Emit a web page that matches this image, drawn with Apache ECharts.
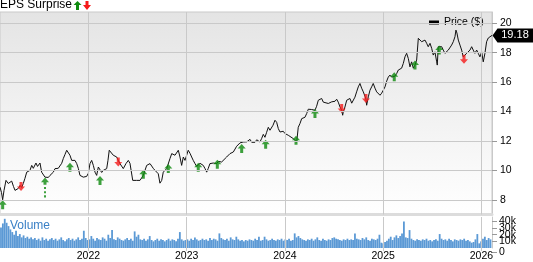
<!DOCTYPE html>
<html><head><meta charset="utf-8">
<script src="https://cdn.jsdelivr.net/npm/echarts@6/dist/echarts.min.js"></script>
<style>html,body{margin:0;padding:0;background:#fff}#c{width:533px;height:262px}</style>
</head><body><div id="c"></div>
<script>
// ---- data (x = decimal year) ----
const priceT = [
2021.100,2021.115,2021.127,2021.141,2021.161,2021.184,2021.202,2021.219,2021.237,2021.253,
2021.273,2021.286,2021.304,2021.321,2021.337,2021.354,2021.372,2021.388,2021.405,2021.423,
2021.439,2021.456,2021.466,2021.482,2021.490,2021.507,2021.524,2021.541,2021.558,2021.575,
2021.592,2021.609,2021.643,2021.660,2021.693,2021.711,2021.728,2021.744,2021.762,2021.779,
2021.795,2021.812,2021.830,2021.846,2021.863,2021.881,2021.897,2021.914,2021.948,2021.982,
2021.999,2022.016,2022.033,2022.050,2022.067,2022.084,2022.101,2022.118,2022.135,2022.151,
2022.186,2022.199,2022.212,2022.230,2022.253,2022.270,2022.288,2022.304,2022.321,2022.355,
2022.382,2022.406,2022.423,2022.451,2022.457,2022.491,2022.525,2022.542,2022.559,2022.576,
2022.593,2022.609,2022.627,2022.644,2022.660,2022.678,2022.695,2022.711,2022.728,2022.746,
2022.762,2022.779,2022.797,2022.813,2022.830,2022.848,2022.864,2022.881,2022.898,2022.915,
2022.932,2022.949,2022.966,2022.983,2023.000,2023.016,2023.034,2023.051,2023.067,2023.085,
2023.102,2023.118,2023.136,2023.153,2023.169,2023.187,2023.204,2023.220,2023.237,2023.271,
2023.288,2023.306,2023.322,2023.339,2023.356,2023.373,2023.407,2023.424,2023.441,2023.475,
2023.492,2023.509,2023.525,2023.543,2023.576,2023.611,2023.627,2023.645,2023.662,2023.678,
2023.695,2023.713,2023.729,2023.746,2023.764,2023.780,2023.797,2023.814,2023.831,2023.848,
2023.879,2023.899,2023.916,2023.933,2023.950,2023.983,2024.001,2024.034,2024.052,2024.085,
2024.103,2024.120,2024.136,2024.153,2024.171,2024.187,2024.204,2024.222,2024.238,2024.255,
2024.272,2024.289,2024.306,2024.323,2024.340,2024.357,2024.374,2024.391,2024.408,2024.442,
2024.476,2024.492,2024.510,2024.527,2024.543,2024.561,2024.578,2024.588,2024.594,2024.611,
2024.629,2024.645,2024.662,2024.680,2024.696,2024.713,2024.730,2024.747,2024.764,2024.781,
2024.798,2024.815,2024.825,2024.832,2024.849,2024.866,2024.883,2024.899,2024.917,2024.934,
2024.950,2024.968,2024.985,2025.001,2025.019,2025.036,2025.052,2025.069,2025.087,2025.103,
2025.120,2025.138,2025.154,2025.171,2025.188,2025.205,2025.222,2025.239,2025.256,2025.273,
2025.290,2025.307,2025.324,2025.341,2025.358,2025.375,2025.392,2025.408,2025.426,2025.443,
2025.459,2025.477,2025.494,2025.510,2025.527,2025.545,2025.551,2025.561,2025.578,2025.596,
2025.612,2025.629,2025.647,2025.663,2025.680,2025.697,2025.714,2025.731,2025.741,2025.751,
2025.765,2025.782,2025.799,2025.815,2025.833,2025.850,2025.866,2025.884,2025.901,2025.917,
2025.934,2025.952,2025.968,2025.985,2026.003,2026.019,2026.036,2026.053,2026.070,2026.087,
2026.108];
const priceV = [
8.86,8.50,8.00,8.64,9.32,9.11,9.18,9.27,8.91,8.64,
8.70,8.77,8.98,8.84,9.11,9.46,9.88,9.86,10.00,10.34,
10.14,10.27,10.50,10.27,10.34,10.50,9.88,9.80,9.54,9.43,
9.52,9.66,9.88,10.12,10.14,10.23,10.48,10.80,11.09,11.37,
11.48,11.03,10.68,10.80,10.68,10.46,10.14,9.66,9.54,9.59,
9.80,10.46,10.68,10.34,9.88,9.66,10.23,10.12,9.86,10.00,
10.12,10.68,11.37,11.48,11.03,11.14,10.91,10.68,10.46,10.12,
10.46,10.68,10.48,9.32,9.20,9.32,9.32,9.45,9.66,10.00,
10.34,10.46,10.46,10.50,10.14,10.00,10.00,9.77,9.13,9.32,
9.88,10.00,10.12,10.20,10.80,11.14,11.23,11.03,11.16,11.37,
10.91,10.34,10.91,10.68,11.03,11.37,11.16,10.91,10.68,10.46,
10.27,10.34,10.48,10.57,10.34,10.12,9.88,10.14,10.46,10.50,
10.48,10.46,10.61,10.68,10.57,10.68,10.91,11.03,11.14,11.25,
11.37,11.64,11.77,11.87,11.93,11.94,12.05,12.11,11.91,11.82,
11.91,12.08,12.11,11.93,12.18,12.45,12.25,12.59,12.93,12.73,
13.07,13.41,13.27,12.84,12.61,12.66,12.50,12.39,12.27,12.16,
12.05,11.93,12.93,13.18,13.52,13.41,13.61,13.87,14.16,14.18,
14.14,14.02,14.09,14.36,14.77,14.89,14.89,14.64,14.55,14.55,
14.66,14.64,14.70,14.84,14.64,14.31,14.09,13.75,13.95,14.31,
14.77,14.89,14.89,14.57,14.70,14.98,15.34,15.68,15.91,15.59,
15.34,15.04,14.84,14.43,15.00,15.45,15.68,15.91,15.59,15.34,
15.23,15.11,15.25,15.45,15.68,16.07,16.34,16.48,16.34,16.25,
16.41,16.59,16.82,16.88,16.95,17.27,17.72,17.96,17.61,17.04,
17.38,16.95,17.16,17.50,18.98,18.86,18.75,18.86,18.86,18.64,
18.41,18.64,18.30,17.84,18.06,17.38,17.16,18.41,18.41,18.41,
18.18,17.96,18.06,18.18,18.30,18.52,18.75,19.09,19.54,19.34,
18.86,18.52,18.18,17.72,17.84,17.96,17.84,18.18,18.41,18.18,
17.96,18.18,17.96,17.72,18.06,17.38,17.96,18.75,19.00,19.09,
19.18];
const lastPrice = '19.18';

// EPS surprise markers (decimal year, price level)
const beatT = [2021.127,2021.812,2022.118,2022.559,2022.813,2023.118,2023.312,2023.560,2023.804,2024.113,2024.306,2025.113,2025.324,2025.571];
const beatV = [7.66,10.22,9.32,9.73,10.12,10.22,10.41,11.48,11.77,12.05,13.86,16.36,17.16,18.18];
const beatDashT = [2021.558];
const beatDashV = [8.84];
const missT = [2021.314,2022.304,2024.578,2024.825,2025.823];
const missV = [8.91,10.57,14.21,14.89,17.55];

// weekly volume (thousands), first bar week of Feb 2021
const volStartT = 2021.11;
const volumeK = [
31,37,44,38,33,28,24,20,26,18,21,16,19,15,17,14,16,13,15,12,14,11,16,12,14,11,13,15,12,14,11,13,16,12,10,13,15,12,14,11,13,16,12,14,26,15,12,
13,18,14,11,15,13,12,16,14,11,20,15,27,13,12,16,14,12,11,13,15,12,14,11,25,17,20,13,12,14,11,13,18,12,10,12,14,11,13,12,10,12,14,11,13,12,10,14,24,13,11,12,
13,11,14,12,16,13,11,12,14,12,13,11,15,12,14,13,11,22,15,13,12,14,11,16,13,12,17,13,11,12,10,12,11,13,12,11,14,12,17,11,12,17,13,11,12,14,12,11,13,12,14,11,
13,12,14,11,12,22,16,18,15,13,12,11,13,12,14,11,13,16,12,11,14,12,11,13,12,15,16,14,13,12,11,13,12,14,12,13,12,22,14,13,12,15,13,16,12,11,14,13,12,14,20,8,
7,9,11,14,17,12,16,19,15,18,22,40,16,15,27,14,12,11,13,12,11,13,12,14,11,12,10,12,13,11,21,14,12,13,11,14,12,10,13,12,11,13,12,14,11,12,10,8,9,13,21,7,
10,14,17,12,15,13];

const yearTicks = [2022,2023,2024,2025,2026];
const priceTicks = [8,10,12,14,16,18,20];
const volTicksA = [20000,40000];
const volTicksB = [10000,30000];
const volTicksC = [0.001]; // the "0" tick (kept non-zero so it is not dropped)

// ---- chart ----
const FONT = '"Liberation Sans", Arial, Helvetica, sans-serif';
const X0 = 2021.10, X1 = 2026.108;
const VMIN = 0, VMAX = 46700;
const VMIN_C = -7445; // helper axis extends 5.5px below the volume panel
const GRID = '#c9c9c9';
const GREEN = '#0e8a0e', RED = '#f51a1a';
const UP = 'path://M4,0 L8,4.5 L5.5,4.5 L5.5,9 L2.5,9 L2.5,4.5 L0,4.5 Z';
const DOWN = 'path://M2.5,0 L5.5,0 L5.5,4.5 L8,4.5 L4,9 L0,4.5 L2.5,4.5 Z';
const UPDASH = 'path://M4,0 L8,4.5 L5.5,4.5 L5.5,7 L2.5,7 L2.5,4.5 L0,4.5 Z M3,9 L5,9 L5,11 L3,11 Z M3,13 L5,13 L5,15 L3,15 Z M3,17 L5,17 L5,19 L3,19 Z';

const priceData = priceT.map((t, i) => [t, priceV[i]]);
const volData = volumeK.map((v, i) => [volStartT + i * 7 / 365.25, v * 1000]);
const n = priceT.length - 1;
const kFmt = v => Math.abs(Number(v)) < 1 ? '0' : Math.round(v / 1000) + 'k';

function volAxis(grid, ticks, showLine, vmin) {
  return {gridIndex: grid, type: 'value', position: 'right', min: vmin, max: VMAX,
    axisLine: {show: showLine, onZero: false, lineStyle: {color: GRID}},
    axisTick: {show: true, customValues: ticks, length: 5, lineStyle: {color: '#999'}},
    axisLabel: {customValues: ticks, formatter: kFmt, interval: 0,
      fontSize: 10.5, color: '#000', margin: 7, fontFamily: FONT,
      hideOverlap: false, showMinLabel: true, showMaxLabel: true},
    splitLine: {show: false}};
}

const chart = echarts.init(document.getElementById('c'), null, {renderer: 'canvas'});
chart.setOption({
  animation: false,
  textStyle: {fontFamily: FONT},
  title: {text: 'EPS Surprise', left: 0, top: -1, padding: 0,
    textStyle: {fontSize: 12, fontWeight: 'normal', color: '#000', fontFamily: FONT}},
  legend: {data: ['Price ($)'], left: 429, top: 17, padding: 0, icon: 'rect',
    itemWidth: 10, itemHeight: 4, itemGap: 5,
    textStyle: {fontSize: 10.5, color: '#000', fontFamily: FONT}},
  graphic: [
    {type: 'polygon', shape: {points: [[73.5,5],[77.5,1],[81.5,5],[79,5],[79,10],[76,10],[76,5]]}, style: {fill: GREEN}},
    {type: 'polygon', shape: {points: [[85.5,1],[88.5,1],[88.5,5],[91,5],[87,10],[83,5],[85.5,5]]}, style: {fill: RED}},
    {type: 'text', left: 10, top: 220, style: {text: 'Volume', fill: '#3a80c6', fontSize: 12, fontFamily: FONT}, z: 10}
  ],
  grid: [
    {left: 0, right: 41, top: 12, bottom: 47.5, show: true, borderColor: GRID, borderWidth: 1,
      backgroundColor: {type: 'linear', x: 0, y: 0, x2: 0, y2: 1,
        colorStops: [{offset: 0, color: '#e4e4e4'}, {offset: 1, color: '#ffffff'}]}},
    {left: 0, right: 41, top: 217, bottom: 10},
    {left: 0, right: 41, top: 217, bottom: 4.5}
  ],
  xAxis: [
    {gridIndex: 0, type: 'value', min: X0, max: X1,
      axisLine: {show: true, onZero: false, lineStyle: {color: '#dcdcdc', width: 3}},
      axisTick: {show: false}, axisLabel: {show: false}, splitLine: {show: false}},
    {gridIndex: 1, type: 'value', min: X0, max: X1,
      axisLine: {show: false, onZero: false},
      axisTick: {show: true, customValues: yearTicks, length: 3, lineStyle: {color: GRID}},
      axisLabel: {show: true, customValues: yearTicks, formatter: v => String(Math.round(v)),
        fontSize: 10.5, color: '#000', margin: 3, fontFamily: FONT, hideOverlap: false},
      splitLine: {show: false}},
    {gridIndex: 2, type: 'value', min: X0, max: X1, show: false}
  ],
  yAxis: [
    {gridIndex: 0, type: 'value', position: 'right', min: 7, max: 20.77,
      axisLine: {show: true, lineStyle: {color: GRID}},
      axisTick: {show: true, customValues: priceTicks, length: 5, lineStyle: {color: '#999'}},
      axisLabel: {customValues: priceTicks, fontSize: 10.5, color: '#000', margin: 8, fontFamily: FONT,
        hideOverlap: false, showMinLabel: true, showMaxLabel: true},
      splitLine: {show: false}},
    volAxis(1, volTicksA, true, VMIN),
    volAxis(1, volTicksB, false, VMIN),
    volAxis(2, volTicksC, false, VMIN_C)
  ],
  series: [
    {name: 'grid0', type: 'line', xAxisIndex: 0, yAxisIndex: 0, data: [[X0, 7]], showSymbol: false,
      lineStyle: {opacity: 0}, silent: true, z: 1,
      markLine: {silent: true, symbol: 'none', label: {show: false}, animation: false,
        lineStyle: {color: GRID, width: 1, type: 'solid'},
        data: priceTicks.map(v => ({yAxis: v})).concat(yearTicks.map(v => ({xAxis: v})))}},
    {name: 'grid1', type: 'line', xAxisIndex: 1, yAxisIndex: 1, data: [[X0, 0]], showSymbol: false,
      lineStyle: {opacity: 0}, silent: true, z: 1,
      markLine: {silent: true, symbol: 'none', label: {show: false}, animation: false,
        lineStyle: {color: GRID, width: 1, type: 'solid'},
        data: yearTicks.map(v => ({xAxis: v}))}},
    {name: 'grid2', type: 'line', xAxisIndex: 2, yAxisIndex: 3, data: [[X0, 0]], showSymbol: false,
      lineStyle: {opacity: 0}, silent: true, z: 1},
    {name: 'Price ($)', type: 'line', xAxisIndex: 0, yAxisIndex: 0, data: priceData,
      showSymbol: false, color: '#000', lineStyle: {color: '#111', width: 1}, z: 3,
      markPoint: {symbol: 'path://M0,7 L5,0 L41,0 L41,14 L5,14 Z', symbolSize: [41, 14],
        symbolOffset: [21, 0], itemStyle: {color: '#000'},
        label: {show: true, position: 'inside', color: '#fff', fontSize: 11, fontFamily: FONT,
          formatter: lastPrice, offset: [2, 0]},
        data: [{coord: [priceT[n], priceV[n]]}]}},
    {name: 'beat', type: 'scatter', xAxisIndex: 0, yAxisIndex: 0, symbol: UP, symbolSize: [8, 9],
      itemStyle: {color: GREEN}, z: 4, data: beatT.map((t, i) => [t, beatV[i]])},
    {name: 'beatDash', type: 'scatter', xAxisIndex: 0, yAxisIndex: 0, symbol: UPDASH, symbolSize: [8, 20],
      itemStyle: {color: GREEN}, z: 4, data: beatDashT.map((t, i) => [t, beatDashV[i]])},
    {name: 'miss', type: 'scatter', xAxisIndex: 0, yAxisIndex: 0, symbol: DOWN, symbolSize: [8, 9],
      itemStyle: {color: RED}, z: 4, data: missT.map((t, i) => [t, missV[i]])},
    {name: 'Volume', type: 'bar', xAxisIndex: 1, yAxisIndex: 1, data: volData, barWidth: 1.8,
      itemStyle: {color: '#5b99d5'}, z: 2}
  ]
});
</script>
</body></html>
